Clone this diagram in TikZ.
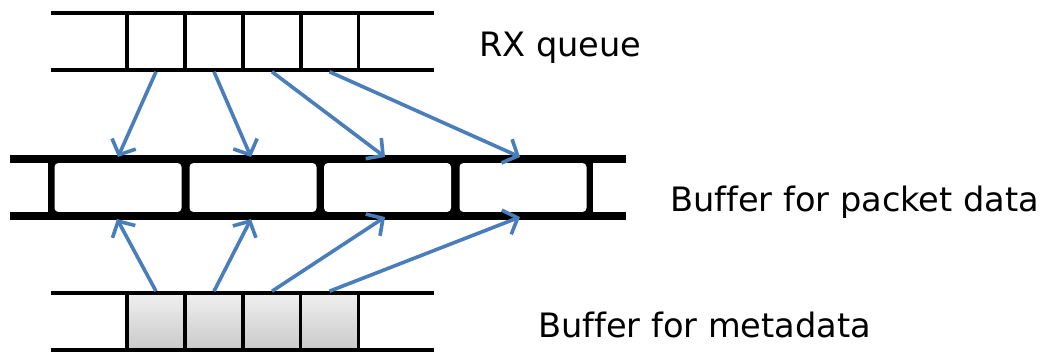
\documentclass[tikz,border=0pt]{standalone}
\usepackage{fontspec}
\setmainfont{DejaVu Sans}[Ligatures={NoCommon}]
\usetikzlibrary{arrows.meta}
\definecolor{arrowblue}{RGB}{74,126,187}
\tikzset{
  qline/.style={line width=3.6pt, draw=black},
  qcell/.style={draw=black, line width=3.6pt, minimum width=58pt, minimum height=57pt, inner sep=0pt},
  mcell/.style={qcell, top color=gray!12, bottom color=gray!42},
  pcell/.style={fill=white, rounded corners=4pt, minimum width=127pt, minimum height=49pt, inner sep=0pt},
  bline/.style={line width=8pt, draw=black},
  conn/.style={draw=arrowblue, line width=3.6pt, -{Straight Barb[length=12pt,width=26pt,line width=3.6pt]}},
  lbl/.style={font=\fontsize{33.6}{40}\selectfont, anchor=base west, inner sep=0pt}
}
\begin{document}
\begin{tikzpicture}[x=1pt,y=-1pt]
\useasboundingbox (0,0) rectangle (1049,354);
% RX queue
\draw[qline] (51,13) -- (434,13);
\draw[qline] (51,70) -- (434,70);
\foreach \i/\x in {1/156,2/214,3/272,4/329.5}{
  \node[qcell] (r\i) at (\x,41.5) {};
}
% packet buffer
\fill[black] (48,159) rectangle (593,216);
\foreach \i/\x in {1/118,2/253,3/387.5,4/523}{
  \node[pcell] (p\i) at (\x,187.5) {};
}
\draw[bline] (10,159) -- (626,159);
\draw[bline] (10,216) -- (626,216);
% metadata
\draw[qline] (51,293) -- (434,293);
\draw[qline] (51,350) -- (434,350);
\foreach \i/\x in {1/156,2/214,3/272,4/329.5}{
  \node[mcell] (m\i) at (\x,321.5) {};
}
% arrow targets
\coordinate (t1) at (118,157);
\coordinate (t2) at (251,157);
\coordinate (t3) at (385,157);
\coordinate (t4) at (520,157);
\coordinate (b1) at (117,219);
\coordinate (b2) at (251,219);
\coordinate (b3) at (385,217);
\coordinate (b4) at (520,217);
\foreach \i in {1,2,3,4}{
  \draw[conn] (r\i.south) -- (t\i);
  \draw[conn] (m\i.north) -- (b\i);
}
% labels
\node[lbl] (lrx) at (479,56) {RX queue};
\node[lbl] (lpk) at (670,211) {Buffer for packet data};
\node[lbl] (lmd) at (538,337) {Buffer for metadata};
\end{tikzpicture}
\end{document}
